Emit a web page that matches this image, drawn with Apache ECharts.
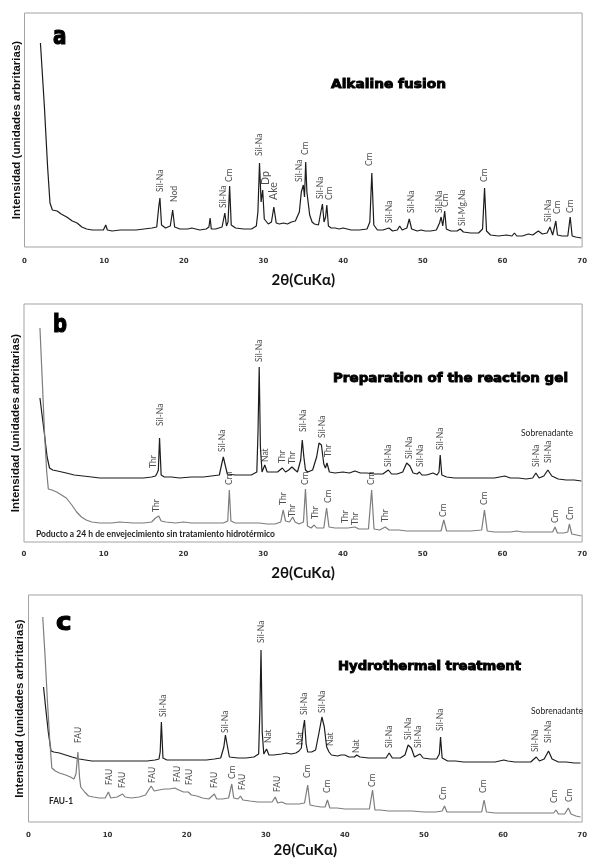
<!DOCTYPE html>
<html>
<head>
<meta charset="utf-8">
<script src="https://cdn.jsdelivr.net/npm/echarts@6/dist/echarts.min.js"></script>
<style>html,body{margin:0;padding:0;background:#fff}#c{width:590px;height:864px}</style>
</head>
<body>
<div id="c"></div>
<script>
// ---------- DATA (2θ, intensity in arbitrary units) ----------
const xTicks = [0, 10, 20, 30, 40, 50, 60, 70];
const xTitle = '2θ(CuKα)';
const yTitle = 'Intensidad (unidades arbritarias)';

// Panel a – Alkaline fusion
const alkalineFusion = [[2.0,204],[2.5,140],[2.9,80],[3.2,44],[3.5,37],[4.1,36],[4.6,33],[5.3,30],[6.0,26],[6.6,24],[7.2,20],[7.8,18],[8.5,17],[9.3,17],[9.9,17],[10.2,22],[10.4,17],[11,16],[12,17],[13,17],[14,17],[15,18],[16,19],[16.6,20],[16.85,40],[17.0,49],[17.2,22],[17.7,19],[18.3,21],[18.6,37],[18.85,20],[19.5,18],[20.5,18],[21,19],[22,17],[22.8,18],[23.15,20],[23.3,29],[23.45,18],[24,18],[24.8,20],[25.15,34],[25.35,21],[25.55,25],[25.75,61],[25.95,22],[26.5,19],[27.5,18],[28.5,18],[29.1,21],[29.3,35],[29.5,84],[29.7,45],[29.9,57],[30.1,28],[30.3,26],[30.6,23],[31.0,25],[31.3,40],[31.6,24],[32,23],[32.5,24],[33,23],[33.5,25],[34.0,26],[34.5,35],[34.75,55],[35.0,62],[35.15,50],[35.3,85],[35.45,55],[35.6,54],[35.8,32],[36.1,25],[36.4,23],[36.9,22],[37.2,35],[37.4,43],[37.6,25],[37.8,30],[37.95,42],[38.15,21],[38.5,19],[39,19],[39.5,18],[40,19],[41,17],[42,17],[43,18],[43.35,25],[43.6,74],[43.85,22],[44.3,17],[45,17],[45.75,19],[46.2,16],[46.8,17],[47.1,21],[47.4,17],[48.0,19],[48.3,28],[48.6,18],[49.3,16],[49.8,17],[50.3,16],[51,16],[51.7,17],[52.1,24],[52.3,30],[52.5,21],[52.75,36],[52.95,18],[53.5,16],[54.3,16],[54.7,18],[55.1,15],[56,14],[57,14],[57.5,18],[57.75,59],[58.0,16],[58.5,12],[59.5,11],[60.5,12],[61.2,11],[61.5,14],[61.8,11],[62.5,11],[63.25,13],[63.8,12],[64.5,16],[65.0,13],[65.6,14],[65.96,20],[66.3,12],[66.5,14],[66.7,26],[66.9,12],[67.5,11],[68.2,11],[68.5,30],[68.75,11],[69.2,10],[69.9,9]];
const alkalineLabels = [[17.0,55,'Sil-Na'],[18.75,45,'Nod'],[25.0,39,'Sil-Na'],[25.75,65,'Crn'],[29.5,91,'Sil-Na'],[30.3,62,'Dp'],[31.3,47,'Ake'],[34.5,65,'Sil-Na'],[35.25,92,'Crn'],[37.1,48,'Sil-Na'],[38.25,47,'Crn'],[43.25,81,'Crn'],[45.8,24,'Sil-Na'],[48.6,34,'Sil-Na'],[52.1,34,'Sil-Na'],[52.8,40,'Crn'],[54.9,21,'Sil-Mg,Na'],[57.75,65,'Crn'],[65.75,25,'Sil-Na'],[66.9,33,'Crn'],[68.5,34,'Crn']];

// Panel b – Preparation of the reaction gel
const gelSobrenadante = [[2.0,144],[2.5,112],[2.9,85],[3.2,74],[3.6,72],[4.2,71],[5.3,69],[6.3,67],[7.4,66],[8.5,65],[9.5,64],[11,64],[12.5,64],[14,64],[15,64],[16,65],[16.5,66],[16.7,69],[16.85,72],[17.0,104],[17.2,67],[17.6,65],[18.5,65],[19.5,64],[21,65],[22.5,65],[23.5,66],[24.5,67],[24.85,80],[25.0,85],[25.2,78],[25.5,68],[26.5,67],[27.5,67],[28.5,67],[29.2,70],[29.35,110],[29.5,175],[29.65,95],[29.85,70],[30.2,77],[30.5,70],[31,70],[31.8,70],[32.4,74],[32.8,70],[33.2,72],[33.6,75],[34.0,72],[34.3,70],[34.7,82],[34.9,102],[35.1,85],[35.3,72],[35.6,70],[36.2,72],[36.7,85],[37.0,99],[37.3,97],[37.6,78],[37.8,74],[38.0,79],[38.3,70],[39,69],[40,70],[40.8,69],[41.5,71],[42.2,69],[43,69],[44,68],[45,68],[45.7,72],[46.1,68],[46.8,68],[47.5,70],[48.0,79],[48.4,76],[48.8,69],[49.3,68],[49.6,70],[49.9,67],[50.5,67],[51.3,69],[51.8,67],[52.05,70],[52.2,87],[52.4,67],[53,65],[54,64],[55,64],[56,64],[57,64],[58,64],[59,64],[60.3,66],[61,64],[62,64],[63,63],[63.8,64],[64.2,69],[64.6,64],[65.2,66],[65.7,72],[66.2,66],[67,63],[68,62],[69,62],[69.9,61]];
const gelProducto = [[2.0,214],[2.3,160],[2.6,105],[2.85,70],[3.05,53],[3.5,52],[4.1,50],[4.7,47],[5.3,44],[6.0,37],[6.6,30],[7.2,25],[7.8,22],[8.5,20],[9.5,19],[11,19],[12,20],[13.7,19],[15,19],[16,20],[16.5,24],[16.6,26],[16.75,23],[16.9,26],[17.2,21],[17.8,20],[19,19],[20,20],[21,19],[22,19],[23,19],[24,19],[25,19],[25.55,21],[25.75,52],[25.95,21],[26.5,19],[27.5,19],[28.5,19],[29.5,19],[30.5,18],[31.5,18],[32.2,20],[32.5,32],[32.8,21],[33.3,20],[33.7,25],[34.0,20],[34.5,18],[35.05,20],[35.3,53],[35.55,16],[36.0,14],[36.4,17],[36.7,14],[37.6,14],[37.95,34],[38.25,15],[39,14],[40,14],[40.25,16],[40.6,14],[41.5,15],[42,13],[43.2,13],[43.6,52],[43.9,13],[44.6,12],[45.3,15],[45.8,12],[47,12],[48,11],[50,11],[51,11],[52.3,11],[52.65,22],[53.0,11],[54,11],[55,11],[56,11],[57.4,12],[57.75,32],[58.1,11],[59,10],[60,10],[61,10],[61.8,11],[62.5,10],[63.5,10],[65,10],[66.3,10],[66.6,15],[66.9,9],[67.7,9],[68.2,10],[68.4,18],[68.7,8],[69.3,7],[69.9,6]];
const gelSobrenadanteLabels = [[16.25,74,'Thr'],[17.1,116,'Sil-Na'],[24.9,90,'Sil-Na'],[29.5,180,'Sil-Na'],[30.3,80,'Nat'],[32.4,79,'Thr'],[33.6,78,'Thr'],[35.0,110,'Sil-Na'],[37.4,104,'Sil-Na'],[38.2,85,'Thr'],[45.7,75,'Sil-Na'],[48.3,83,'Sil-Na'],[49.7,75,'Sil-Na'],[52.2,92,'Sil-Na'],[64.2,75,'Sil-Na'],[65.7,79,'Sil-Na']];
const gelProductoLabels = [[16.6,30,'Thr'],[25.75,57,'Crn'],[32.5,37,'Thr'],[33.7,25,'Thr'],[35.3,57,'Crn'],[36.5,23,'Thr'],[38.2,39,'Crn'],[40.25,19,'Thr'],[41.6,17,'Thr'],[43.6,57,'Crn'],[45.3,20,'Thr'],[52.6,25,'Crn'],[57.75,37,'Crn'],[66.6,19,'Crn'],[68.5,22,'Crn']];

// Panel c – Hydrothermal treatment
const hydroSobrenadante = [[1.9,135],[2.2,112],[2.5,90],[2.85,71],[3.2,70],[3.9,69],[4.7,67],[5.5,65],[6.4,63],[7.2,62],[8,61],[9,61],[10,61],[11,61],[12,61],[13,61],[14,61],[15,61],[16,62],[16.5,63],[16.65,70],[16.8,100],[17.0,64],[17.5,62],[18.5,62],[19.5,62],[20.5,62],[21.5,62],[22.5,62],[23.5,63],[24.3,64],[24.7,75],[24.9,87],[25.1,78],[25.4,65],[26.5,64],[27.5,64],[28.5,65],[29.1,68],[29.25,110],[29.4,172],[29.55,90],[29.75,68],[30.1,73],[30.4,67],[31,67],[32,68],[32.6,69],[33.2,68],[33.8,69],[34.2,71],[34.5,74],[34.7,92],[34.9,102],[35.1,78],[35.3,70],[35.8,70],[36.3,72],[36.7,88],[37.1,105],[37.4,95],[37.7,75],[38.0,70],[38.3,67],[39.1,66],[39.5,67],[40.0,67],[40.5,65],[41.2,65],[41.5,67],[41.9,65],[43,64],[44,64],[45.2,64],[45.6,69],[46,64],[47,64],[47.6,67],[48.0,77],[48.4,74],[48.8,65],[49.5,68],[49.9,64],[50.8,63],[51.6,63],[51.95,68],[52.1,85],[52.3,64],[53,61],[54,61],[55,60],[56,60],[57,60],[58,60],[59,60],[60.1,62],[60.6,61],[61.5,60],[62.5,60],[63.5,60],[64.2,65],[64.6,61],[65.2,63],[65.75,71],[66.2,63],[67,60],[68,60],[69,59],[69.8,59]];
const hydroFAU1 = [[1.8,205],[2.1,165],[2.4,120],[2.7,80],[2.95,54],[3.4,51],[3.9,49],[4.7,47],[5.3,45],[5.75,43],[6.0,48],[6.25,70],[6.45,45],[6.6,35],[7.1,30],[7.6,26],[8.2,25],[8.9,24],[9.7,24],[10.1,30],[10.4,24],[11.2,25],[11.9,28],[12.2,25],[13,24],[14,25],[14.8,27],[15.5,36],[15.9,31],[16.5,32],[17.2,33],[17.8,33],[18.5,34],[19.0,32],[19.6,30],[20.2,30],[20.6,27],[21.3,26],[22,24],[22.8,23],[23.5,28],[23.8,23],[24.5,23],[25.3,24],[25.7,38],[25.95,24],[26.5,23],[26.8,26],[27.1,22],[28,21],[29,20],[30,20],[30.8,20],[31.2,25],[31.5,19],[32.0,20],[32.6,18],[33.5,18],[34.2,18],[34.9,19],[35.3,37],[35.6,17],[36.2,16],[37.0,15],[37.5,15],[37.8,22],[38.1,14],[39,14],[40,13],[41,13],[42,13],[43.1,13],[43.5,32],[43.8,12],[44.5,12],[45.5,11],[47,11],[48.5,11],[50,10],[51.5,10],[52.3,11],[52.6,16],[52.9,10],[54,10],[55,10],[56,10],[57.3,10],[57.6,22],[57.9,10],[59,9],[60,9],[61,9],[62,9],[63,9],[64,9],[65,9],[66.4,9],[66.7,12],[67.0,8],[67.8,8],[68.25,14],[68.6,8],[69.2,6],[69.8,5]];
const hydroSobrenadanteLabels = [[17.0,105,'Sil-Na'],[24.9,89,'Sil-Na'],[29.4,179,'Sil-Na'],[30.3,79,'Nat'],[34.3,77,'Nat'],[34.9,107,'Sil-Na'],[37.1,109,'Sil-Na'],[38.1,76,'Nat'],[41.5,69,'Nat'],[45.6,74,'Sil-Na'],[48.0,82,'Sil-Na'],[49.3,74,'Sil-Na'],[52.1,91,'Sil-Na'],[64.1,70,'Sil-Na'],[65.75,79,'Sil-Na']];
const hydroFAU1Labels = [[6.25,79,'FAU'],[10.2,37,'FAU'],[11.9,34,'FAU'],[15.6,39,'FAU'],[18.75,40,'FAU'],[20.3,37,'FAU'],[23.5,34,'FAU'],[25.75,43,'Crn'],[27.0,32,'FAU'],[31.4,30,'FAU'],[35.2,44,'Crn'],[37.8,29,'Crn'],[43.5,35,'Crn'],[52.5,22,'Crn'],[57.5,29,'Crn'],[66.5,19,'Crn'],[68.4,20,'Crn']];

// ---------- LAYOUT ----------
const panels = [
  {grid:{left:24.5,right:6,top:13,height:234}, ymax:234, labelMargin:11, nameGap:26, yGap:2},
  {grid:{left:24,right:7,top:304,height:238}, ymax:238, labelMargin:9, nameGap:24, yGap:2},
  {grid:{left:28.5,right:2,top:595,height:227}, ymax:227, labelMargin:10, nameGap:21, yGap:3}
];
const BLACK = '#1c1c1c', GRAY = '#7d7d7d';
const lineSets = [
  [{d:alkalineFusion,c:BLACK}],
  [{d:gelSobrenadante,c:BLACK},{d:gelProducto,c:GRAY}],
  [{d:hydroSobrenadante,c:BLACK},{d:hydroFAU1,c:GRAY}]
];
const labelSets = [
  [alkalineLabels],
  [gelSobrenadanteLabels, gelProductoLabels],
  [hydroSobrenadanteLabels, hydroFAU1Labels]
];
const bigLabels = new Set(['Dp','Ake']);

const grids=[], xAxes=[], yAxes=[], series=[];
panels.forEach((p,i)=>{
  grids.push(Object.assign({show:true,borderColor:'#a3a3a3',borderWidth:1,backgroundColor:'transparent'},p.grid));
  xAxes.push({type:'value',gridIndex:i,min:xTicks[0],max:xTicks[xTicks.length-1],interval:10,
    axisLine:{show:false},axisTick:{show:false},splitLine:{show:false},
    axisLabel:{margin:p.labelMargin,fontFamily:'DejaVu Sans',fontWeight:'bold',fontSize:7,color:'#333',
      formatter:v=>xTicks.includes(v)?String(v):''},
    name:xTitle,nameLocation:'middle',nameGap:p.nameGap,
    nameTextStyle:{fontFamily:'Lato',fontWeight:'bold',fontSize:15,color:'#111'}});
  yAxes.push({type:'value',gridIndex:i,min:0,max:p.ymax,
    axisLine:{show:false},axisTick:{show:false},splitLine:{show:false},axisLabel:{show:false},
    name:yTitle,nameLocation:'middle',nameGap:p.yGap,
    nameTextStyle:{fontFamily:'Liberation Sans',fontWeight:'bold',fontSize:11.5,color:'#111'}});
  lineSets[i].forEach(s=>series.push({type:'line',xAxisIndex:i,yAxisIndex:i,data:s.d,showSymbol:false,
    symbol:'none',silent:true,animation:false,lineStyle:{color:s.c,width:1.2},z:2}));
  labelSets[i].forEach(ls=>series.push({type:'scatter',xAxisIndex:i,yAxisIndex:i,silent:true,animation:false,
    symbol:'circle',symbolSize:0.1,itemStyle:{color:'transparent'},z:3,
    data:ls.map(l=>({value:[l[0],l[1]],name:l[2],
      label:{fontSize:bigLabels.has(l[2])?10.5:8.5}})),
    label:{show:true,position:'top',distance:0,rotate:90,align:'left',verticalAlign:'middle',
      formatter:q=>q.name,fontFamily:'Lato',fontSize:8.5,color:'#222'}}));
});

// ---------- free text ----------
const mctx = document.createElement('canvas').getContext('2d');
function fitText(text, font, x, cy, w, color, strokeW){
  mctx.font = font;
  const m = mctx.measureText(text).width;
  const st = {text, font, fill:color, textAlign:'left', textVerticalAlign:'middle'};
  if(strokeW){st.stroke=color;st.lineWidth=strokeW;}
  return {type:'text', x, y:cy, scaleX:w/m, z:10, silent:true, style:st};
}
const heavy = 'bold 13px "DejaVu Sans"';
const letter = 'bold 24px "DejaVu Sans"';
const graphics = [
  fitText('a', letter, 53, 38, 13.5, '#000', 1.2),
  fitText('b', letter, 53, 326, 14, '#000', 1.2),
  fitText('c', letter, 56, 624, 15.5, '#000', 1.2),
  fitText('Alkaline fusion', heavy, 331, 85, 115, '#000', 0.9),
  fitText('Preparation of the reaction gel', heavy, 333, 379, 235, '#000', 0.9),
  fitText('Hydrothermal treatment', heavy, 338, 667, 183, '#000', 0.9),
  fitText('Sobrenadante', '8.5px Lato', 521, 433, 52, '#222'),
  fitText('Sobrenadante', '8.5px Lato', 531, 711, 52, '#222'),
  fitText('Poducto a 24 h de envejecimiento sin tratamiento hidrotérmico', 'bold 8.5px Lato', 36, 534, 239, '#222'),
  fitText('FAU-1', 'bold 8.5px Lato', 49, 801, 24, '#222')
];

const chart = echarts.init(document.getElementById('c'), null, {renderer:'canvas'});
chart.setOption({animation:false, backgroundColor:'#fff', grid:grids, xAxis:xAxes, yAxis:yAxes, series, graphic:graphics});
</script>
</body>
</html>
